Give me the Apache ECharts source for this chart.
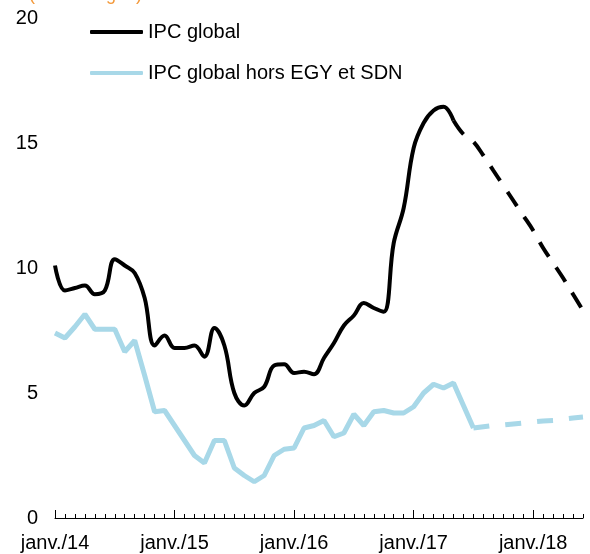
<!DOCTYPE html>
<html lang="fr">
<head>
<meta charset="utf-8">
<title>IPC global</title>
<script src="https://cdn.jsdelivr.net/npm/echarts@6/dist/echarts.min.js"></script>
<style>
    html, body { margin: 0; padding: 0; background: #fff; }
    #grafico { width: 590px; height: 554px; }
</style>
</head>
<body>
<div id="grafico"></div>
<script>
const mois = ['janv.', 'févr.', 'mars', 'avr.', 'mai', 'juin', 'juil.', 'août', 'sept.', 'oct.', 'nov.', 'déc.']
const annees = ['14', '15', '16', '17', '18']
const nbMois = 54 // janv./14 -> juin/18

// IPC global, observé (janv./14 -> mai/17)
const ipcGlobal = [
    10.1, 9.1, 9.2, 9.3, 8.95, 9.1, 10.35, 10.1, 9.8, 8.8, 6.9, 7.3,
    6.8, 6.8, 6.9, 6.45, 7.6, 6.9, 5.0, 4.5, 5.0, 5.25, 6.1, 6.15,
    5.8, 5.85, 5.75, 6.4, 7.0, 7.7, 8.1, 8.6, 8.4, 8.25, 11.0, 12.4,
    14.8, 15.8, 16.3, 16.45, 15.9
]
// IPC global, prévision (mai/17 -> juin/18)
const ipcGlobalPrev = [15.9, 15.35, 15.05, 14.5, 13.9, 13.3, 12.7, 12.1, 11.5, 10.8, 10.2, 9.6, 8.95, 8.3]
const debutGlobalPrev = 40

// IPC global hors EGY et SDN, observé (janv./14 -> juil./17)
const ipcHors = [
    7.4, 7.2, 7.65, 8.15, 7.55, 7.55, 7.55, 6.65, 7.1, 5.7, 4.25, 4.3,
    3.7, 3.1, 2.5, 2.2, 3.1, 3.1, 2.0, 1.7, 1.45, 1.7, 2.5, 2.75,
    2.8, 3.6, 3.7, 3.9, 3.25, 3.4, 4.15, 3.7, 4.25, 4.3, 4.2, 4.2,
    4.45, 5.0, 5.35, 5.2, 5.4, 4.5, 3.6
]
// IPC global hors EGY et SDN, prévision (juil./17 -> juin/18)
const ipcHorsPrev = [3.6, 3.65, 3.7, 3.72, 3.76, 3.8, 3.84, 3.88, 3.9, 3.95, 4.0, 4.04]
const debutHorsPrev = 42

const yTicks = [0, 5, 10, 15, 20]

const categories = []
for (let i = 0; i < nbMois; i++) {
    categories.push(mois[i % 12] + '/' + annees[Math.floor(i / 12)])
}

const decaler = (valeurs, debut) => {
    const out = new Array(nbMois).fill(null)
    valeurs.forEach((v, i) => { out[debut + i] = v })
    return out
}

const police = 'Liberation Sans, Arial, sans-serif'
const bleu = '#A8D8E8'
const estJanvier = (index) => index % 12 === 0

const dom = document.getElementById('grafico')
const myChart = echarts.init(dom, null, { renderer: 'canvas' })

const option = {
    animation: false,
    title: {
        text: '(en % en g.a.)',
        left: 24,
        top: -19,
        textStyle: { color: '#F39A3C', fontSize: 18, fontWeight: 'normal', fontFamily: police }
    },
    legend: {
        orient: 'vertical',
        left: 85,
        top: 17,
        itemWidth: 53,
        itemHeight: 4,
        itemGap: 21,
        icon: 'roundRect',
        data: ['IPC global', 'IPC global hors EGY et SDN'],
        textStyle: { color: '#000', fontSize: 20, fontFamily: police }
    },
    grid: { left: 55, right: 7, top: 18, bottom: 36, containLabel: false },
    xAxis: [{
        type: 'category',
        data: categories,
        boundaryGap: false,
        axisLine: { lineStyle: { color: '#000', width: 1 } },
        axisTick: { show: true, inside: true, length: 4, interval: 0, lineStyle: { color: '#000' } },
        axisLabel: { show: false },
        splitLine: { show: false }
    }, {
        type: 'category',
        data: categories,
        position: 'bottom',
        boundaryGap: false,
        axisLine: { show: false },
        axisTick: { show: true, inside: true, length: 8, interval: estJanvier, lineStyle: { color: '#000' } },
        axisLabel: {
            interval: estJanvier,
            margin: 15,
            color: '#000',
            fontSize: 20,
            fontFamily: police,
            formatter: (v) => v
        },
        splitLine: { show: false }
    }],
    yAxis: {
        type: 'value',
        min: yTicks[0],
        max: yTicks[yTicks.length - 1],
        interval: 5,
        axisLine: { show: false },
        axisTick: { show: false },
        splitLine: { show: false },
        axisLabel: { margin: 17, color: '#000', fontSize: 20, fontFamily: police }
    },
    series: [{
        name: 'IPC global',
        type: 'line',
        data: ipcGlobal,
        smooth: 0.4,
        showSymbol: false,
        color: '#000',
        lineStyle: { color: '#000', width: 4 },
        z: 3
    }, {
        name: 'IPC global (prévision)',
        type: 'line',
        data: decaler(ipcGlobalPrev, debutGlobalPrev),
        smooth: 0.4,
        showSymbol: false,
        color: '#000',
        lineStyle: { color: '#000', width: 4, type: [17, 13] },
        z: 3
    }, {
        name: 'IPC global hors EGY et SDN',
        type: 'line',
        data: ipcHors,
        showSymbol: false,
        color: bleu,
        lineStyle: { color: bleu, width: 5 },
        z: 2
    }, {
        name: 'IPC global hors EGY et SDN (prévision)',
        type: 'line',
        data: decaler(ipcHorsPrev, debutHorsPrev),
        showSymbol: false,
        color: bleu,
        lineStyle: { color: bleu, width: 5, type: [16, 16] },
        z: 2
    }]
}

if (option && typeof option === 'object') {
    myChart.setOption(option)
}
</script>
</body>
</html>
